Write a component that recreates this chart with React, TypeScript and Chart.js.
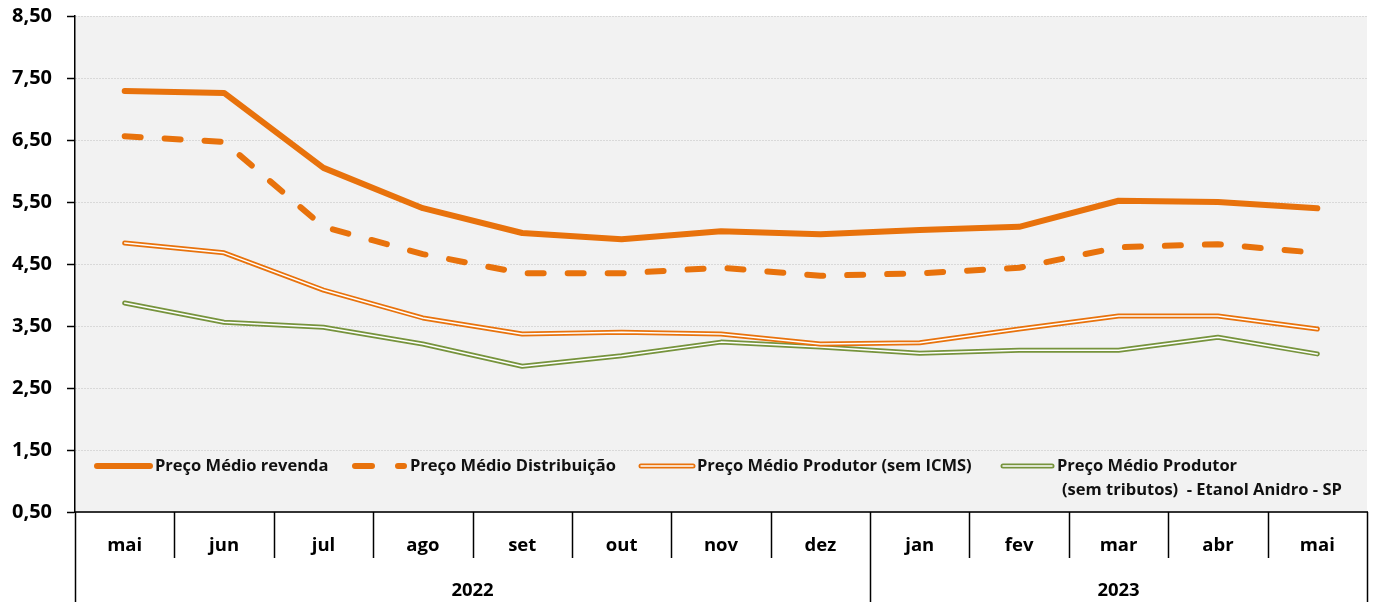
import React, { useEffect, useRef } from 'react';
import { Chart, registerables } from 'chart.js';

Chart.register(...registerables);

const months = ['mai', 'jun', 'jul', 'ago', 'set', 'out', 'nov', 'dez', 'jan', 'fev', 'mar', 'abr', 'mai'];
const years = ['2022', '2023'];
const yearMonthCounts = [8, 5];

const revenda = [7.29, 7.26, 6.05, 5.4, 5.0, 4.9, 5.03, 4.98, 5.05, 5.1, 5.52, 5.5, 5.4];
const distribuicao = [6.56, 6.47, 5.1, 4.66, 4.35, 4.35, 4.44, 4.31, 4.35, 4.44, 4.77, 4.82, 4.68];
const produtorSemIcms = [4.84, 4.68, 4.08, 3.63, 3.37, 3.4, 3.37, 3.21, 3.23, 3.45, 3.66, 3.66, 3.45];
const produtorSemTributos = [3.87, 3.56, 3.48, 3.21, 2.85, 3.02, 3.24, 3.16, 3.06, 3.11, 3.11, 3.32, 3.05];

const yMin = 0.5;
const yMax = 8.5;
const yStep = 1;

const legendLabels = [
  'Preço Médio revenda',
  'Preço Médio Distribuição',
  'Preço Médio Produtor (sem ICMS)',
  'Preço Médio Produtor',
];
const legendLabelLine2 = '(sem tributos)  - Etanol Anidro - SP';

const ORANGE = '#E8720C';
const GREEN = '#76933C';
const FONT = '"Open Sans", Lato, sans-serif';

const tablePlugin = {
  id: 'tablePlugin',
  beforeDraw(chart: any) {
    const { ctx, chartArea } = chart;
    ctx.save();
    ctx.fillStyle = '#F2F2F2';
    ctx.fillRect(chartArea.left, chartArea.top, chartArea.right - chartArea.left, chartArea.bottom - chartArea.top);
    ctx.restore();
  },
  afterDraw(chart: any) {
    const { ctx, chartArea, scales } = chart;
    const { left, right, bottom } = chartArea;
    const x = scales.x;
    const H = chart.height;
    const n = months.length;
    const bounds: number[] = [];
    for (let i = 0; i <= n; i++) {
      if (i === 0) bounds.push(left);
      else if (i === n) bounds.push(right);
      else bounds.push((x.getPixelForValue(i - 1) + x.getPixelForValue(i)) / 2);
    }
    const yearBreaks = new Set<number>([0, n]);
    let acc = 0;
    yearMonthCounts.forEach((c) => { acc += c; yearBreaks.add(acc); });

    ctx.save();
    ctx.strokeStyle = '#000';
    ctx.lineWidth = 1.5;
    bounds.forEach((b, i) => {
      ctx.beginPath();
      ctx.moveTo(Math.round(b) + 0.5, bottom);
      ctx.lineTo(Math.round(b) + 0.5, yearBreaks.has(i) ? H : bottom + 46);
      ctx.stroke();
    });

    ctx.fillStyle = '#000';
    ctx.font = `bold 18.5px ${FONT}`;
    ctx.textAlign = 'center';
    ctx.textBaseline = 'middle';
    months.forEach((m, i) => {
      ctx.fillText(m, x.getPixelForValue(i), bottom + 34);
    });
    let start = 0;
    years.forEach((yy, k) => {
      const end = start + yearMonthCounts[k];
      ctx.fillText(yy, (bounds[start] + bounds[end]) / 2, bottom + 79);
      start = end;
    });

    // legend
    const ly = bottom - 46;
    ctx.lineCap = 'round';
    ctx.lineJoin = 'round';
    ctx.strokeStyle = ORANGE;
    ctx.lineWidth = 6;
    ctx.beginPath(); ctx.moveTo(97, ly); ctx.lineTo(150, ly); ctx.stroke();
    ctx.setLineDash([17, 26]);
    ctx.beginPath(); ctx.moveTo(355, ly); ctx.lineTo(404, ly); ctx.stroke();
    ctx.setLineDash([]);
    ctx.lineWidth = 5;
    ctx.beginPath(); ctx.moveTo(641, ly); ctx.lineTo(693, ly); ctx.stroke();
    ctx.strokeStyle = '#fff'; ctx.lineWidth = 1.5;
    ctx.beginPath(); ctx.moveTo(641, ly); ctx.lineTo(693, ly); ctx.stroke();
    ctx.strokeStyle = GREEN; ctx.lineWidth = 5;
    ctx.beginPath(); ctx.moveTo(1003, ly); ctx.lineTo(1052, ly); ctx.stroke();
    ctx.strokeStyle = '#fff'; ctx.lineWidth = 1.5;
    ctx.beginPath(); ctx.moveTo(1003, ly); ctx.lineTo(1052, ly); ctx.stroke();

    ctx.fillStyle = '#111';
    ctx.font = `bold 16.5px ${FONT}`;
    ctx.textAlign = 'left';
    ctx.fillText(legendLabels[0], 155, ly);
    ctx.fillText(legendLabels[1], 410, ly);
    ctx.fillText(legendLabels[2], 697, ly);
    ctx.fillText(legendLabels[3], 1057, ly);
    ctx.fillText(legendLabelLine2, 1062, ly + 24);
    ctx.restore();
  },
};

export default function App() {
  const ref = useRef<HTMLCanvasElement | null>(null);
  useEffect(() => {
    document.body.style.margin = '0';
    const canvas = ref.current;
    if (!canvas) return;
    const lineBase = {
      pointRadius: 0,
      pointHoverRadius: 0,
      tension: 0,
      fill: false,
      borderCapStyle: 'round',
      borderJoinStyle: 'round',
    };
    const chart = new Chart(canvas, {
      type: 'line',
      data: {
        labels: months,
        datasets: [
          { ...lineBase, label: legendLabels[0], data: revenda, borderColor: ORANGE, borderWidth: 6, order: 0 },
          { ...lineBase, label: legendLabels[1], data: distribuicao, borderColor: ORANGE, borderWidth: 6, borderDash: [16, 24], order: 1 },
          { ...lineBase, label: 'inner1', data: produtorSemIcms, borderColor: '#FFFFFF', borderWidth: 1.5, order: 2 },
          { ...lineBase, label: legendLabels[2], data: produtorSemIcms, borderColor: ORANGE, borderWidth: 5, order: 3 },
          { ...lineBase, label: 'inner2', data: produtorSemTributos, borderColor: '#FFFFFF', borderWidth: 1.5, order: 4 },
          { ...lineBase, label: legendLabels[3], data: produtorSemTributos, borderColor: GREEN, borderWidth: 5, order: 5 },
        ] as any,
      },
      options: {
        responsive: false,
        animation: false,
        devicePixelRatio: 1,
        layout: { padding: { top: 16, right: 6, left: 0, bottom: 0 } },
        plugins: { legend: { display: false }, tooltip: { enabled: false } },
        events: [],
        scales: {
          x: {
            type: 'category',
            offset: true,
            grid: { display: false },
            ticks: { display: false },
            border: { display: true, color: '#333', width: 2 },
            afterFit: (s: any) => { s.height = 90; s.paddingLeft = 0; s.paddingRight = 0; },
          },
          y: {
            min: yMin,
            max: yMax,
            ticks: {
              stepSize: yStep,
              padding: 15,
              color: '#000',
              font: { family: FONT, size: 20, weight: 'bold' },
              callback: (v: any) => Number(v).toFixed(2).replace('.', ','),
            },
            grid: {
              color: '#C0C0C0',
              lineWidth: 1,
              tickLength: 8,
              tickColor: '#000',
              tickWidth: 1.5,
            },
            border: { display: true, color: '#000', width: 1.5, dash: [1, 2] },
            afterFit: (s: any) => { s.width = 75; s.paddingTop = 0; s.paddingBottom = 0; },
          },
        },
      } as any,
      plugins: [tablePlugin],
    });
    return () => chart.destroy();
  }, []);
  return <canvas ref={ref} width={1373} height={602} style={{ display: 'block' }} />;
}
